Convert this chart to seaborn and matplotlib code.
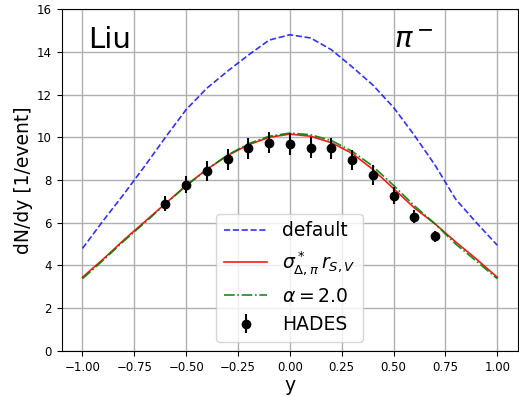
import numpy as np
import pandas as pd
import matplotlib
matplotlib.use("Agg")
import matplotlib.pyplot as plt
import seaborn as sns

# model rapidity grid
y_model = [-1.0, -0.9, -0.8, -0.7, -0.6, -0.5, -0.4, -0.3, -0.2, -0.1, 0.0,
           0.1, 0.2, 0.3, 0.4, 0.5, 0.6, 0.7, 0.8, 0.9, 1.0]
default_vals = [4.8, 6.1, 7.35, 8.65, 10.0, 11.3, 12.3, 13.1, 13.85, 14.55, 14.8,
                14.65, 14.1, 13.3, 12.45, 11.4, 10.1, 8.7, 7.1, 6.0, 4.95]
sigma_vals = [3.45, 4.3, 5.2, 6.05, 6.9, 7.75, 8.5, 9.15, 9.65, 10.0, 10.15,
              10.05, 9.75, 9.25, 8.5, 7.6, 6.7, 5.95, 5.1, 4.3, 3.45]
alpha_vals = [3.38, 4.25, 5.15, 6.0, 6.88, 7.73, 8.5, 9.17, 9.7, 10.05, 10.2,
              10.12, 9.85, 9.35, 8.65, 7.75, 6.8, 5.95, 5.0, 4.2, 3.38]

# HADES data
y_data = [-0.6, -0.5, -0.4, -0.3, -0.2, -0.1, 0.0, 0.1, 0.2, 0.3, 0.4, 0.5, 0.6, 0.7]
dndy_data = [6.88, 7.78, 8.42, 8.97, 9.49, 9.75, 9.69, 9.52, 9.49, 8.94, 8.24, 7.26, 6.29, 5.36]
dndy_err = [0.35, 0.4, 0.45, 0.5, 0.5, 0.5, 0.5, 0.5, 0.5, 0.45, 0.45, 0.4, 0.3, 0.25]

labels = ["default", r"$\sigma^*_{\Delta,\pi}\,r_{S,V}$", r"$\alpha=2.0$", "HADES"]

fig = plt.figure(figsize=(5.19, 3.97), dpi=100)
ax = fig.add_axes([0.119, 0.116, 0.879, 0.861])

df = pd.DataFrame({"y": y_model, "default": default_vals,
                   "sigma": sigma_vals, "alpha": alpha_vals})

sns.lineplot(data=df, x="y", y="default", ax=ax, color="blue", linestyle="--",
             linewidth=1.2, alpha=0.8, label=labels[0])
sns.lineplot(data=df, x="y", y="sigma", ax=ax, color="red", linestyle="-",
             linewidth=1.2, alpha=0.9, label=labels[1])
sns.lineplot(data=df, x="y", y="alpha", ax=ax, color="green", linestyle="-.",
             linewidth=1.2, alpha=0.9, label=labels[2])
ax.errorbar(y_data, dndy_data, yerr=dndy_err, fmt="o", color="black",
            markersize=6, elinewidth=1.5, label=labels[3])

ax.set_xlim(-1.1, 1.1)
ax.set_ylim(0, 16)
ax.set_xticks([-1.0, -0.75, -0.5, -0.25, 0.0, 0.25, 0.5, 0.75, 1.0])
ax.set_yticks([0, 2, 4, 6, 8, 10, 12, 14, 16])
ax.tick_params(labelsize=8.5)
ax.grid(True, color="#b0b0b0", linewidth=1.0)
ax.set_axisbelow(True)
ax.set_xlabel("y", fontsize=13.5, labelpad=2)
ax.set_ylabel("dN/dy [1/event]", fontsize=13.5, labelpad=3)

ax.text(-0.975, 14.2, "Liu", fontsize=21)
ax.text(0.50, 14.2, r"$\pi^-$", fontsize=21)

ax.legend(loc="lower center", fontsize=13.5, handlelength=2.3)

fig.savefig("out.png", dpi=100)
